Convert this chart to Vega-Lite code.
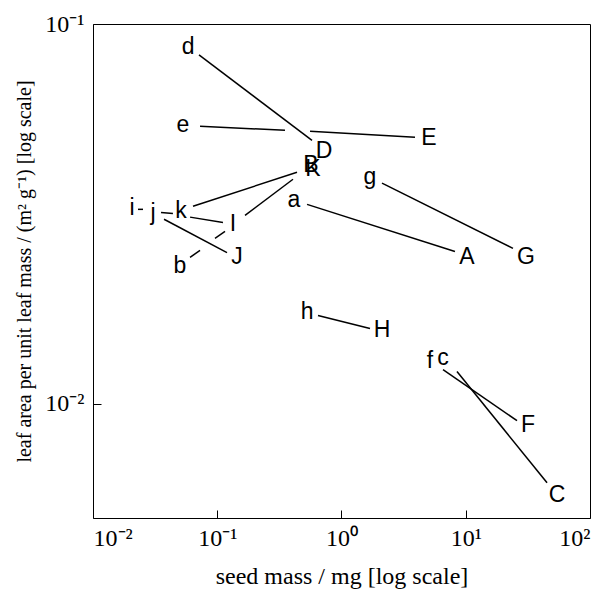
{
  "$schema": "https://vega.github.io/schema/vega-lite/v6.json",
  "width": 497,
  "height": 494,
  "autosize": "none",
  "padding": {"left": 93, "top": 24, "right": 16, "bottom": 77},
  "background": "white",
  "config": {
    "view": {"stroke": "black", "strokeWidth": 1},
    "axis": {
      "grid": false,
      "domain": false,
      "tickColor": "black",
      "tickSize": -8,
      "labelFont": "Liberation Serif",
      "labelFontSize": 24,
      "labelColor": "black",
      "titleFont": "Liberation Serif",
      "titleFontWeight": "normal",
      "titleColor": "black"
    }
  },
  "datasets": {
    "labels": [
      {"lab": "d", "x": 0.0582, "y": 0.0870},
      {"lab": "e", "x": 0.0530, "y": 0.0541},
      {"lab": "E", "x": 5.06, "y": 0.0500},
      {"lab": "D", "x": 0.723, "y": 0.0462},
      {"lab": "B", "x": 0.568, "y": 0.0425},
      {"lab": "K", "x": 0.590, "y": 0.0414},
      {"lab": "g", "x": 1.696, "y": 0.0395},
      {"lab": "a", "x": 0.4147, "y": 0.0343},
      {"lab": "i", "x": 0.0206, "y": 0.0327},
      {"lab": "j", "x": 0.0304, "y": 0.0317},
      {"lab": "k", "x": 0.0511, "y": 0.0321},
      {"lab": "I", "x": 0.1339, "y": 0.0297},
      {"lab": "A", "x": 10.23, "y": 0.0244},
      {"lab": "G", "x": 30.5, "y": 0.0244},
      {"lab": "b", "x": 0.0501, "y": 0.0230},
      {"lab": "J", "x": 0.1442, "y": 0.0243},
      {"lab": "h", "x": 0.528, "y": 0.01748},
      {"lab": "H", "x": 2.118, "y": 0.01568},
      {"lab": "f", "x": 5.156, "y": 0.01299},
      {"lab": "c", "x": 6.56, "y": 0.01322},
      {"lab": "F", "x": 31.7, "y": 0.00880},
      {"lab": "C", "x": 54.3, "y": 0.00575}
    ],
    "segs": [
      {"seg": "d-D", "x": 0.0713, "y": 0.0829, "x2": 0.579, "y2": 0.0494},
      {"seg": "e-E1", "x": 0.0727, "y": 0.0538, "x2": 0.351, "y2": 0.0525},
      {"seg": "e-E2", "x": 0.558, "y": 0.0522, "x2": 3.905, "y2": 0.0503},
      {"seg": "k-K", "x": 0.0638, "y": 0.0331, "x2": 0.4384, "y2": 0.0407},
      {"seg": "b-B1", "x": 0.0604, "y": 0.0243, "x2": 0.0727, "y2": 0.02533},
      {"seg": "b-B2", "x": 0.0959, "y": 0.02725, "x2": 0.1155, "y2": 0.02843},
      {"seg": "b-B3", "x": 0.1673, "y": 0.03133, "x2": 0.4071, "y2": 0.0390},
      {"seg": "g-G", "x": 2.118, "y": 0.0381, "x2": 24.0, "y2": 0.02564},
      {"seg": "a-A", "x": 0.528, "y": 0.0335, "x2": 8.19, "y2": 0.02518},
      {"seg": "i-I1", "x": 0.02303, "y": 0.0325, "x2": 0.02526, "y2": 0.0325},
      {"seg": "i-I2", "x": 0.03526, "y": 0.0319, "x2": 0.0440, "y2": 0.0317},
      {"seg": "i-I3", "x": 0.0604, "y": 0.0310, "x2": 0.1112, "y2": 0.0300},
      {"seg": "j-J", "x": 0.0373, "y": 0.0306, "x2": 0.1198, "y2": 0.0250},
      {"seg": "h-H", "x": 0.647, "y": 0.01707, "x2": 1.696, "y2": 0.01578},
      {"seg": "f-F", "x": 6.56, "y": 0.01229, "x2": 25.85, "y2": 0.00902},
      {"seg": "c-C", "x": 8.50, "y": 0.01215, "x2": 45.1, "y2": 0.00619}
    ]
  },
  "layer": [
    {
      "data": {"name": "segs"},
      "mark": {"type": "rule", "color": "black", "strokeWidth": 1.5},
      "encoding": {
        "x": {
          "field": "x", "type": "quantitative",
          "scale": {"type": "log", "domain": [0.01, 100], "nice": false},
          "axis": {
            "title": "seed mass / mg [log scale]",
            "titleFontSize": 24,
            "titlePadding": 14,
            "values": [0.01, 0.1, 1, 10, 100],
            "labelPadding": 16,
            "labelExpr": "datum.value < 0.05 ? '10⁻²' : datum.value < 0.5 ? '10⁻¹' : datum.value < 5 ? '10⁰' : datum.value < 50 ? '10¹' : '10²'"
          }
        },
        "y": {
          "field": "y", "type": "quantitative",
          "scale": {"type": "log", "domain": [0.005, 0.1], "nice": false},
          "axis": {
            "title": "leaf area per unit leaf mass / (m² g⁻¹) [log scale]",
            "titleFontSize": 20,
            "titlePadding": 10,
            "values": [0.01, 0.1],
            "labelPadding": 17,
            "labelExpr": "datum.value < 0.05 ? '10⁻²' : '10⁻¹'"
          }
        },
        "x2": {"field": "x2"},
        "y2": {"field": "y2"}
      }
    },
    {
      "data": {"name": "labels"},
      "mark": {"type": "text", "font": "Liberation Sans", "fontSize": 23, "color": "black", "align": "center", "baseline": "middle"},
      "encoding": {
        "x": {"field": "x", "type": "quantitative"},
        "y": {"field": "y", "type": "quantitative"},
        "text": {"field": "lab"}
      }
    }
  ]
}
